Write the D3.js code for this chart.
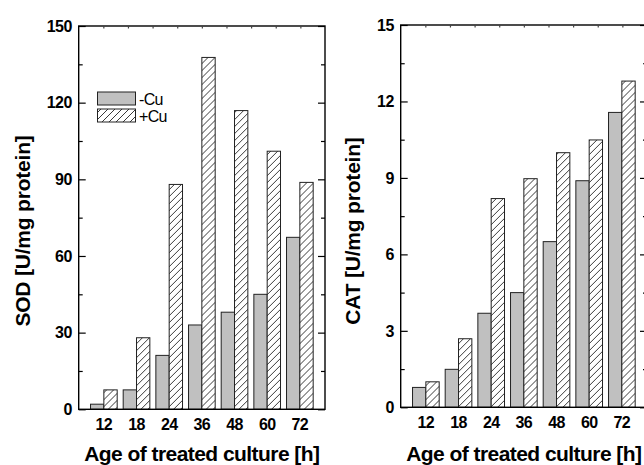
<!DOCTYPE html>
<html>
<head>
<meta charset="utf-8">
<script src="https://cdn.jsdelivr.net/npm/d3@7"></script>
<style>
  html, body { margin: 0; padding: 0; background: #fff; }
  svg { display: block; font-family: "Liberation Sans", Arial, sans-serif; }
</style>
</head>
<body>
<svg id="chart" width="644" height="465"></svg>
<script>
// ---- data ----
const categories = ["12", "18", "24", "36", "48", "60", "72"];
const seriesNames = ["-Cu", "+Cu"];
const sodMinusCu = [2.0, 7.6, 21.1, 33.0, 38.0, 45.0, 67.3];
const sodPlusCu  = [7.6, 28.0, 88.0, 137.7, 116.9, 101.0, 88.8];
const catMinusCu = [0.78, 1.49, 3.69, 4.5, 6.5, 8.89, 11.57];
const catPlusCu  = [1.0, 2.69, 8.19, 8.97, 9.99, 10.49, 12.8];
const sodTicks = [0, 30, 60, 90, 120, 150];
const catTicks = [0, 3, 6, 9, 12, 15];
const xTitle = "Age of treated culture [h]";
const sodTitle = "SOD [U/mg protein]";
const catTitle = "CAT [U/mg protein]";

const svg = d3.select("#chart");
const defs = svg.append("defs");
defs.append("pattern")
  .attr("id", "hatch")
  .attr("patternUnits", "userSpaceOnUse")
  .attr("width", 7).attr("height", 7)
  .call(p => {
    p.append("rect").attr("width", 7).attr("height", 7).attr("fill", "#fff");
    p.append("path")
      .attr("d", "M-2,2 L2,-2 M0,7 L7,0 M5,9 L9,5")
      .attr("stroke", "#222").attr("stroke-width", 0.9);
  });

const fills = ["#c0c0c0", "url(#hatch)"];

function panel(opts) {
  const { x0, x1, y0, y1, minus, plus, ticks, title, titleX } = opts;
  const g = svg.append("g");
  const x = d3.scaleBand().domain(categories).range([x0, x1])
    .paddingInner(0.184).paddingOuter(0.362);
  const xs = d3.scaleBand().domain(seriesNames).range([0, x.bandwidth()]);
  const yMax = ticks[ticks.length - 1];
  const y = d3.scaleLinear().domain([0, yMax]).range([y1, y0]);

  // bars
  const rows = categories.map((c, i) => ({ c, vals: [minus[i], plus[i]] }));
  const grp = g.selectAll("g.grp").data(rows).join("g")
    .attr("transform", d => `translate(${x(d.c)},0)`);
  grp.selectAll("rect").data(d => d.vals.map((v, k) => ({ v, k })))
    .join("rect")
    .attr("x", d => xs(seriesNames[d.k]))
    .attr("y", d => y(d.v))
    .attr("width", xs.bandwidth())
    .attr("height", d => y(0) - y(d.v))
    .attr("fill", d => fills[d.k])
    .attr("stroke", "#222").attr("stroke-width", 1);

  // frame
  g.append("rect").attr("x", x0).attr("y", y0)
    .attr("width", x1 - x0).attr("height", y1 - y0)
    .attr("fill", "none").attr("stroke", "#000").attr("stroke-width", 1.4);

  // left axis (inward ticks)
  const step = ticks[1] - ticks[0];
  const minor = d3.range(step / 2, yMax, step);
  const leftAx = g.append("g").attr("transform", `translate(${x0},0)`)
    .call(d3.axisRight(y).tickValues(ticks).tickSize(7).tickFormat(""));
  leftAx.select(".domain").remove();
  leftAx.selectAll("line").attr("stroke", "#000").attr("stroke-width", 1.2);
  const leftMinor = g.append("g").attr("transform", `translate(${x0},0)`)
    .call(d3.axisRight(y).tickValues(minor).tickSize(4).tickFormat(""));
  leftMinor.select(".domain").remove();
  leftMinor.selectAll("line").attr("stroke", "#000").attr("stroke-width", 1.2);
  // labels
  g.append("g").selectAll("text").data(ticks).join("text")
    .attr("x", x0 - 7).attr("y", d => y(d))
    .attr("dy", "0.36em").attr("text-anchor", "end")
    .attr("font-size", 16).attr("font-weight", "bold")
    .attr("letter-spacing", -0.6).text(d => d);

  // right axis
  const rightAx = g.append("g").attr("transform", `translate(${x1},0)`)
    .call(d3.axisLeft(y).tickValues(ticks).tickSize(7).tickFormat(""));
  rightAx.select(".domain").remove();
  rightAx.selectAll("line").attr("stroke", "#000").attr("stroke-width", 1.2);
  const rightMinor = g.append("g").attr("transform", `translate(${x1},0)`)
    .call(d3.axisLeft(y).tickValues(minor).tickSize(4).tickFormat(""));
  rightMinor.select(".domain").remove();
  rightMinor.selectAll("line").attr("stroke", "#000").attr("stroke-width", 1.2);

  // top axis small ticks
  const xt = d3.scaleLinear().domain([0, 10]).range([x0, x1]);
  const topAx = g.append("g").attr("transform", `translate(0,${y0})`)
    .call(d3.axisBottom(xt).tickValues(d3.range(1, 10)).tickSize(2.5).tickFormat(""));
  topAx.select(".domain").remove();
  topAx.selectAll("line").attr("stroke", "#444").attr("stroke-width", 1.2);

  // x tick labels
  g.append("g").selectAll("text").data(categories).join("text")
    .attr("x", d => x(d) + x.bandwidth() / 2).attr("y", y1 + 21)
    .attr("text-anchor", "middle")
    .attr("font-size", 16).attr("font-weight", "bold")
    .attr("letter-spacing", -0.6).text(d => d);

  // x title
  g.append("text").attr("x", (x0 + x1) / 2).attr("y", 461)
    .attr("text-anchor", "middle").attr("font-size", 21).attr("font-weight", "bold")
    .attr("letter-spacing", -0.55)
    .text(xTitle);

  // y title
  g.append("text")
    .attr("transform", `translate(${titleX},231) rotate(-90)`)
    .attr("text-anchor", "middle").attr("font-size", 21).attr("font-weight", "bold")
    .attr("letter-spacing", -0.2)
    .text(title);
  return { x, y };
}

panel({ x0: 78.7, x1: 325, y0: 26, y1: 409.3, minus: sodMinusCu, plus: sodPlusCu,
        ticks: sodTicks, title: sodTitle, titleX: 30 });
panel({ x0: 400.7, x1: 647, y0: 25, y1: 407.3, minus: catMinusCu, plus: catPlusCu,
        ticks: catTicks, title: catTitle, titleX: 360 });

// legend (left panel)
const lg = svg.append("g");
const legendY = [92, 109];
seriesNames.forEach((s, i) => {
  lg.append("rect").attr("x", 97.5).attr("y", legendY[i])
    .attr("width", 38).attr("height", 13)
    .attr("fill", fills[i]).attr("stroke", "#222").attr("stroke-width", 1);
  lg.append("text").attr("x", 139).attr("y", legendY[i] + 12.5)
    .attr("font-size", 16).attr("letter-spacing", -0.7).text(s);
});
</script>
</body>
</html>
